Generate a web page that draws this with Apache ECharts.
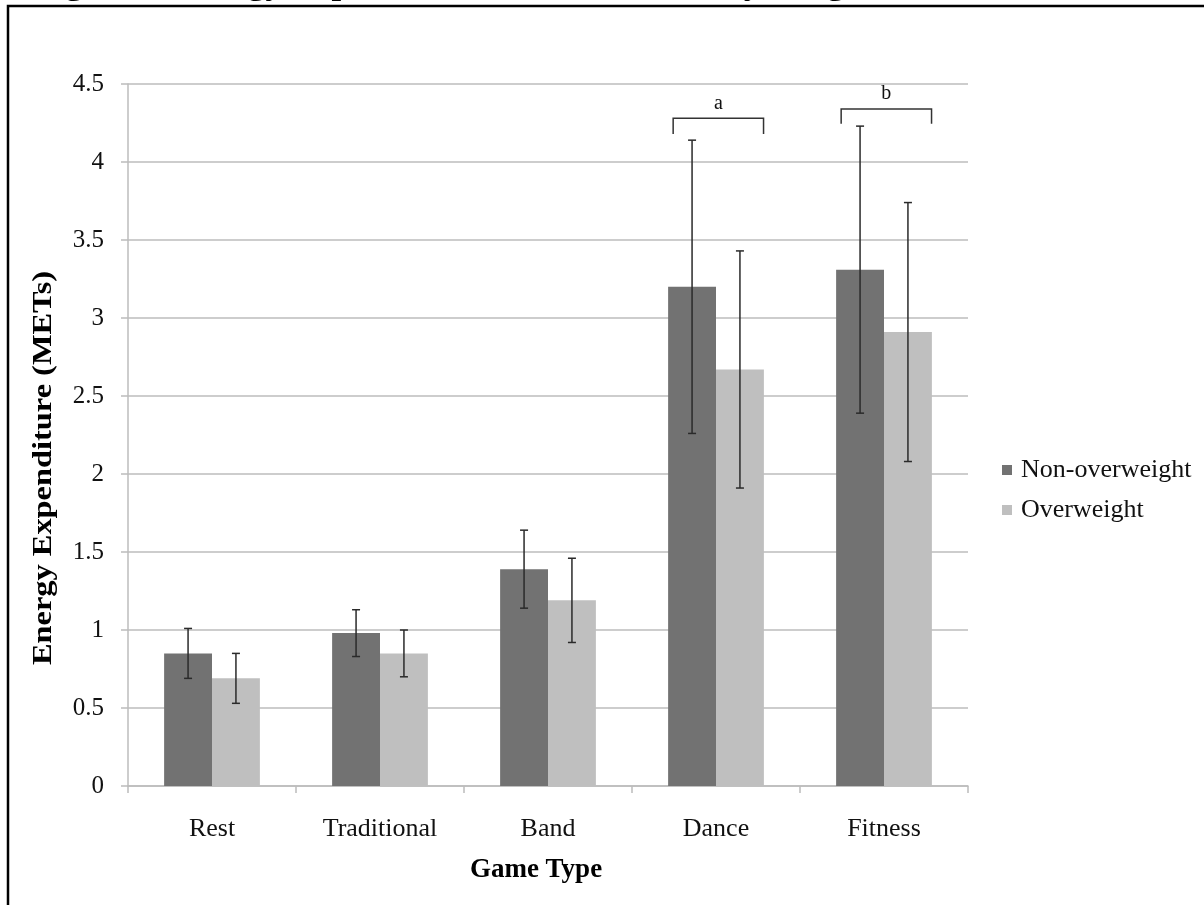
<!DOCTYPE html>
<html>
<head>
<meta charset="utf-8">
<script src="https://cdn.jsdelivr.net/npm/echarts@6/dist/echarts.min.js"></script>
<style>
html,body{margin:0;padding:0;background:#fff;}
#chart{width:1204px;height:905px;}
</style>
</head>
<body>
<div id="chart"></div>
<script>
// ---- data ----
const categories = ['Rest', 'Traditional', 'Band', 'Dance', 'Fitness'];
const seriesNames = ['Non-overweight', 'Overweight'];
const nonOverweight     = [0.85, 0.98, 1.39, 3.20, 3.31];
const nonOverweightLow  = [0.69, 0.83, 1.14, 2.26, 2.39];
const nonOverweightHigh = [1.01, 1.13, 1.64, 4.14, 4.23];
const overweight        = [0.69, 0.85, 1.19, 2.67, 2.91];
const overweightLow     = [0.53, 0.70, 0.92, 1.91, 2.08];
const overweightHigh    = [0.85, 1.00, 1.46, 3.43, 3.74];
const bracketCategory = [3, 4];
const bracketLabel    = ['a', 'b'];
const bracketTop      = [4.28, 4.34];
const bracketLeg      = [4.18, 4.245];
const yMin = 0, yMax = 4.5, yStep = 0.5;

const titleText = 'Figure 1. Energy Expenditure of Video Games by Weight Status';
const yTitle = 'Energy Expenditure (METs)';
const xTitle = 'Game Type';

const FONT = 'Liberation Serif, Times New Roman, serif';
const CAT_GAP = 0.43;
const DARK = '#727272', LIGHT = '#bfbfbf', GRID = '#bcbcbc';

function errorRender(sign) {
  return function (params, api) {
    const i = api.value(0);
    const lo = api.coord([i, api.value(1)]);
    const hi = api.coord([i, api.value(2)]);
    const cw = api.size([1, 0])[0];
    const bw = cw * (1 - CAT_GAP) / 2;
    const x = lo[0] + sign * bw / 2;
    const cap = 4;
    const st = { stroke: '#2a2a2a', lineWidth: 1.5 };
    return {
      type: 'group',
      children: [
        { type: 'line', shape: { x1: x, y1: hi[1], x2: x, y2: lo[1] }, style: st },
        { type: 'line', shape: { x1: x - cap, y1: hi[1], x2: x + cap, y2: hi[1] }, style: st },
        { type: 'line', shape: { x1: x - cap, y1: lo[1], x2: x + cap, y2: lo[1] }, style: st }
      ]
    };
  };
}

function bracketRender(params, api) {
  const i = api.value(0);
  const top = api.coord([i, api.value(1)]);
  const leg = api.coord([i, api.value(2)]);
  const cw = api.size([1, 0])[0];
  const x1 = top[0] - cw * 0.255, x2 = top[0] + cw * 0.283;
  return {
    type: 'group',
    children: [
      { type: 'polyline', shape: { points: [[x1, leg[1]], [x1, top[1]], [x2, top[1]], [x2, leg[1]]] },
        style: { stroke: '#333', lineWidth: 1.5, fill: null } },
      { type: 'text', style: { text: bracketLabel[params.dataIndex], x: (x1 + x2) / 2, y: top[1] - 5,
        align: 'center', verticalAlign: 'bottom', font: '20px ' + FONT, fill: '#111' } }
    ]
  };
}

const chart = echarts.init(document.getElementById('chart'), null, { renderer: 'canvas' });
chart.setOption({
  animation: false,
  backgroundColor: '#fff',
  grid: { left: 128, right: 236, top: 84, bottom: 119, containLabel: false },
  legend: {
    orient: 'vertical', left: 997, top: 452,
    itemWidth: 10, itemHeight: 10, itemGap: 14, icon: 'rect',
    data: seriesNames,
    textStyle: { fontFamily: FONT, fontSize: 26, lineHeight: 26, color: '#111', padding: [0, 0, 0, 4] }
  },
  xAxis: {
    type: 'category', data: categories,
    axisLine: { lineStyle: { color: GRID, width: 1.5 } },
    axisTick: { show: true, length: 7, alignWithLabel: false, lineStyle: { color: GRID, width: 1.5 } },
    axisLabel: { fontFamily: FONT, fontSize: 26, color: '#111', margin: 30 },
    splitLine: { show: false }
  },
  yAxis: {
    type: 'value', min: yMin, max: yMax, interval: yStep,
    axisLine: { show: true, lineStyle: { color: GRID, width: 1.5 } },
    axisTick: { show: true, length: 7, lineStyle: { color: GRID, width: 1.5 } },
    axisLabel: { fontFamily: FONT, fontSize: 25, color: '#111', margin: 24 },
    splitLine: { show: true, lineStyle: { color: GRID, width: 1.5 } }
  },
  series: [
    { name: seriesNames[0], type: 'bar', data: nonOverweight, barGap: '0%', barCategoryGap: (CAT_GAP * 100) + '%',
      itemStyle: { color: DARK } },
    { name: seriesNames[1], type: 'bar', data: overweight, barGap: '0%', barCategoryGap: (CAT_GAP * 100) + '%',
      itemStyle: { color: LIGHT } },
    { type: 'custom', renderItem: errorRender(-1), z: 5,
      data: categories.map((c, i) => [i, nonOverweightLow[i], nonOverweightHigh[i]]),
      encode: { x: 0, y: [1, 2] } },
    { type: 'custom', renderItem: errorRender(1), z: 5,
      data: categories.map((c, i) => [i, overweightLow[i], overweightHigh[i]]),
      encode: { x: 0, y: [1, 2] } },
    { type: 'custom', renderItem: bracketRender, z: 5,
      data: bracketCategory.map((c, k) => [c, bracketTop[k], bracketLeg[k]]),
      encode: { x: 0, y: [1, 2] } }
  ],
  graphic: [
    { type: 'rect', shape: { x: 8, y: 6, width: 1300, height: 1000 },
      style: { fill: null, stroke: '#000', lineWidth: 2.5 }, z: 10 },
    { type: 'text', x: 35, y: 2.5, z: 9,
      style: { text: titleText, font: 'bold 29px ' + FONT, fill: '#000', align: 'left', verticalAlign: 'bottom' },
      scaleX: 1.19 },
    { type: 'text', x: 44, y: 468, rotation: Math.PI / 2, scaleX: 1.2,
      style: { text: yTitle, font: 'bold 27px ' + FONT, fill: '#000', align: 'center', verticalAlign: 'middle' } },
    { type: 'text', x: 536, y: 870,
      style: { text: xTitle, font: 'bold 27px ' + FONT, fill: '#000', align: 'center', verticalAlign: 'middle' } }
  ]
});
</script>
</body>
</html>
